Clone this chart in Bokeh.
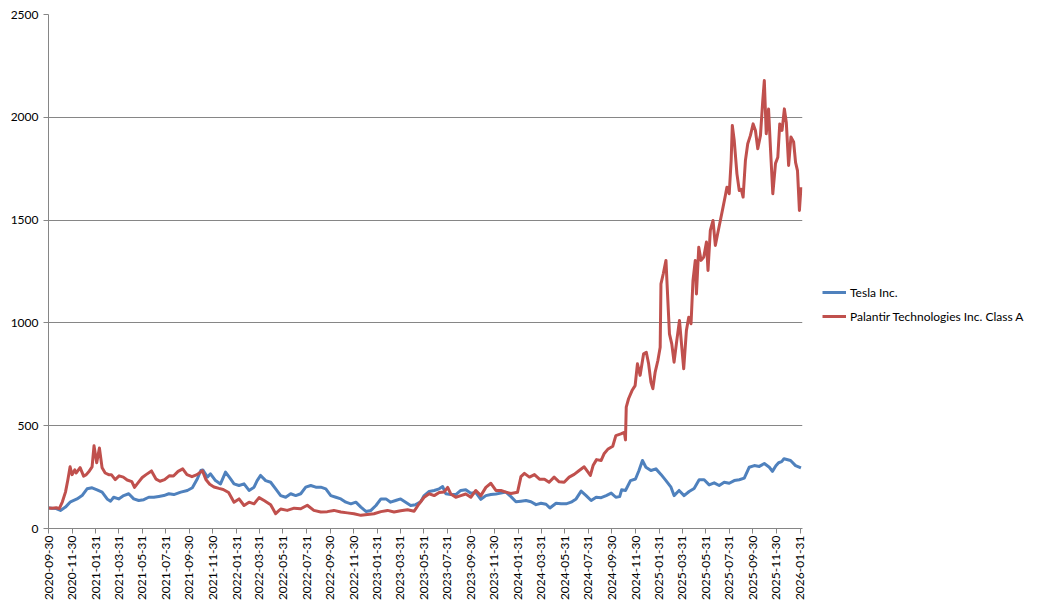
import math
import pandas as pd
from bokeh.plotting import figure
from bokeh.layouts import row
from bokeh.models import Range1d, FixedTicker, SingleIntervalTicker, DatetimeTickFormatter, Legend, LegendItem
from bokeh.embed import file_html
from bokeh.resources import INLINE

tick_labels = [
    "2020-09-30", "2020-11-30", "2021-01-31", "2021-03-31", "2021-05-31", "2021-07-31",
    "2021-09-30", "2021-11-30", "2022-01-31", "2022-03-31", "2022-05-31", "2022-07-31",
    "2022-09-30", "2022-11-30", "2023-01-31", "2023-03-31", "2023-05-31", "2023-07-31",
    "2023-09-30", "2023-11-30", "2024-01-31", "2024-03-31", "2024-05-31", "2024-07-31",
    "2024-09-30", "2024-11-30", "2025-01-31", "2025-03-31", "2025-05-31", "2025-07-31",
    "2025-09-30", "2025-11-30", "2026-01-31",
]

tesla_dates = [
    "2020-09-30", "2020-10-10", "2020-10-20", "2020-10-31", "2020-11-13", "2020-11-26",
    "2020-12-13", "2020-12-26", "2021-01-08", "2021-01-21", "2021-02-03", "2021-02-16",
    "2021-03-01", "2021-03-10", "2021-03-18", "2021-03-31", "2021-04-13", "2021-04-26",
    "2021-05-09", "2021-05-22", "2021-06-04", "2021-06-17", "2021-06-30", "2021-07-13",
    "2021-07-26", "2021-08-08", "2021-08-21", "2021-09-08", "2021-09-25", "2021-10-08",
    "2021-10-21", "2021-10-30", "2021-11-04", "2021-11-16", "2021-11-24", "2021-12-07",
    "2021-12-20", "2022-01-02", "2022-01-15", "2022-01-24", "2022-02-06", "2022-02-19",
    "2022-03-04", "2022-03-17", "2022-03-25", "2022-04-03", "2022-04-16", "2022-04-29",
    "2022-05-12", "2022-05-25", "2022-06-07", "2022-06-20", "2022-07-03", "2022-07-16",
    "2022-07-29", "2022-08-11", "2022-08-24", "2022-09-06", "2022-09-19", "2022-10-02",
    "2022-10-15", "2022-10-28", "2022-11-10", "2022-11-23", "2022-12-06", "2022-12-19",
    "2023-01-01", "2023-01-14", "2023-01-27", "2023-02-09", "2023-02-22", "2023-03-06",
    "2023-03-19", "2023-04-01", "2023-04-14", "2023-04-27", "2023-05-10", "2023-05-23",
    "2023-06-01", "2023-06-14", "2023-06-27", "2023-07-10", "2023-07-19", "2023-07-27",
    "2023-08-09", "2023-08-22", "2023-09-04", "2023-09-17", "2023-09-30", "2023-10-13",
    "2023-10-26", "2023-11-08", "2023-11-21", "2023-12-04", "2023-12-17", "2023-12-30",
    "2024-01-12", "2024-01-25", "2024-02-07", "2024-02-20", "2024-03-04", "2024-03-17",
    "2024-03-30", "2024-04-12", "2024-04-22", "2024-05-08", "2024-05-21", "2024-06-03",
    "2024-06-16", "2024-06-29", "2024-07-12", "2024-07-25", "2024-08-07", "2024-08-20",
    "2024-09-02", "2024-09-15", "2024-09-28", "2024-10-10", "2024-10-20", "2024-10-25",
    "2024-11-04", "2024-11-17", "2024-11-30", "2024-12-09", "2024-12-18", "2024-12-27",
    "2025-01-09", "2025-01-22", "2025-02-04", "2025-02-17", "2025-03-02", "2025-03-10",
    "2025-03-23", "2025-04-05", "2025-04-18", "2025-05-01", "2025-05-14", "2025-05-27",
    "2025-06-09", "2025-06-22", "2025-07-05", "2025-07-18", "2025-07-31", "2025-08-13",
    "2025-08-26", "2025-09-08", "2025-09-21", "2025-10-04", "2025-10-17", "2025-10-30",
    "2025-11-12", "2025-11-20", "2025-11-29", "2025-12-06", "2025-12-14", "2025-12-20",
    "2026-01-06", "2026-01-19", "2026-02-02",
]
tesla_values = [
    100, 98, 97, 88, 104, 130,
    144, 160, 193, 198, 188, 177,
    144, 133, 152, 144, 160, 169,
    144, 136, 140, 152, 152, 156,
    160, 169, 165, 177, 185, 198,
    242, 282, 285, 250, 266, 233,
    217, 274, 241, 217, 209, 217,
    185, 201, 233, 258, 233, 225,
    193, 160, 152, 169, 160, 169,
    201, 209, 201, 201, 193, 160,
    152, 144, 128, 120, 128, 104,
    83, 88, 112, 144, 144, 128,
    136, 144, 128, 112, 116, 130,
    160, 180, 185, 193, 204, 169,
    165, 165, 185, 188, 172, 175,
    142, 160, 165, 168, 172, 177,
    155, 130, 133, 136, 130, 116,
    123, 118, 100, 123, 120, 120,
    128, 144, 182, 160, 136, 152,
    150, 160, 172, 152, 155, 188,
    185, 233, 241, 282, 331, 298,
    282, 290, 263, 233, 201, 160,
    185, 160, 180, 195, 237, 237,
    212, 222, 209, 225, 220, 233,
    237, 245, 298, 306, 302, 316,
    298, 278, 305, 320, 325, 339,
    331, 306, 295,
]

pltr_dates = [
    "2020-09-30", "2020-10-09", "2020-10-20", "2020-10-28", "2020-11-05", "2020-11-13",
    "2020-11-19", "2020-11-25", "2020-11-30", "2020-12-07", "2020-12-11", "2020-12-21",
    "2020-12-30", "2021-01-06", "2021-01-14", "2021-01-21", "2021-01-26", "2021-02-02",
    "2021-02-09", "2021-02-16", "2021-02-24", "2021-03-05", "2021-03-12", "2021-03-22",
    "2021-04-01", "2021-04-12", "2021-04-22", "2021-05-04", "2021-05-11", "2021-05-20",
    "2021-05-31", "2021-06-10", "2021-06-24", "2021-07-06", "2021-07-16", "2021-07-28",
    "2021-08-09", "2021-08-20", "2021-09-01", "2021-09-13", "2021-09-24", "2021-10-07",
    "2021-10-20", "2021-11-03", "2021-11-12", "2021-11-22", "2021-12-03", "2021-12-16",
    "2021-12-27", "2022-01-10", "2022-01-24", "2022-02-06", "2022-02-19", "2022-03-04",
    "2022-03-17", "2022-03-30", "2022-04-12", "2022-04-29", "2022-05-12", "2022-05-25",
    "2022-06-11", "2022-06-29", "2022-07-16", "2022-08-02", "2022-08-19", "2022-09-06",
    "2022-09-23", "2022-10-10", "2022-10-28", "2022-11-14", "2022-12-01", "2022-12-19",
    "2023-01-05", "2023-01-22", "2023-02-09", "2023-02-26", "2023-03-15", "2023-04-01",
    "2023-04-19", "2023-05-06", "2023-05-18", "2023-06-01", "2023-06-14", "2023-06-27",
    "2023-07-10", "2023-07-23", "2023-08-01", "2023-08-09", "2023-08-22", "2023-09-04",
    "2023-09-17", "2023-09-30", "2023-10-13", "2023-10-26", "2023-11-08", "2023-11-21",
    "2023-12-04", "2023-12-17", "2023-12-30", "2024-01-12", "2024-01-29", "2024-02-07",
    "2024-02-16", "2024-02-29", "2024-03-13", "2024-03-26", "2024-04-08", "2024-04-20",
    "2024-05-03", "2024-05-16", "2024-05-29", "2024-06-11", "2024-06-24", "2024-07-07",
    "2024-07-20", "2024-08-05", "2024-08-12", "2024-08-21", "2024-09-02", "2024-09-10",
    "2024-09-19", "2024-10-02", "2024-10-10", "2024-10-23", "2024-11-01", "2024-11-04",
    "2024-11-06", "2024-11-12", "2024-11-21", "2024-11-29", "2024-12-05", "2024-12-12",
    "2024-12-21", "2024-12-28", "2025-01-03", "2025-01-09", "2025-01-14", "2025-01-20",
    "2025-01-27", "2025-02-02", "2025-02-04", "2025-02-10", "2025-02-17", "2025-02-20",
    "2025-02-26", "2025-03-04", "2025-03-10", "2025-03-17", "2025-03-24", "2025-03-30",
    "2025-04-04", "2025-04-11", "2025-04-17", "2025-04-23", "2025-04-28", "2025-05-04",
    "2025-05-07", "2025-05-13", "2025-05-19", "2025-05-26", "2025-06-02", "2025-06-06",
    "2025-06-12", "2025-06-19", "2025-06-25", "2025-07-01", "2025-07-08", "2025-07-15",
    "2025-07-21", "2025-07-25", "2025-07-31", "2025-08-05", "2025-08-08", "2025-08-13",
    "2025-08-20", "2025-08-26", "2025-08-31", "2025-09-05", "2025-09-11", "2025-09-17",
    "2025-09-24", "2025-10-01", "2025-10-07", "2025-10-13", "2025-10-20", "2025-10-26",
    "2025-10-30", "2025-11-04", "2025-11-10", "2025-11-15", "2025-11-21", "2025-11-28",
    "2025-12-04", "2025-12-09", "2025-12-15", "2025-12-21", "2025-12-26", "2026-01-01",
    "2026-01-07", "2026-01-14", "2026-01-19", "2026-01-24", "2026-01-29", "2026-02-02",
]
pltr_values = [
    100, 98, 101, 97, 130, 177,
    235, 300, 262, 285, 270, 296,
    255, 262, 280, 300, 402, 320,
    392, 295, 270, 262, 262, 238,
    256, 250, 236, 228, 200, 222,
    248, 262, 280, 240, 230, 238,
    256, 255, 278, 290, 262, 252,
    262, 281, 238, 215, 202, 195,
    190, 175, 128, 144, 112, 128,
    120, 150, 136, 116, 72, 95,
    88, 99, 96, 113, 88, 80,
    82, 88, 80, 76, 72, 64,
    68, 72, 82, 88, 80, 86,
    91, 84, 118, 152, 169, 160,
    175, 178, 200, 168, 152, 160,
    168, 152, 185, 160, 200, 220,
    185, 185, 177, 170, 176, 252,
    268, 250, 262, 240, 240, 225,
    250, 227, 225, 250, 263, 282,
    300, 258, 306, 335, 331, 365,
    385, 400, 452, 460, 468, 431,
    590, 631, 671, 695, 801, 745,
    850, 857, 801, 712, 680, 761,
    817, 882, 1190, 1239, 1304, 1183,
    947, 898, 809, 914, 1012, 882,
    777, 963, 1028, 996, 1206, 1304,
    1141, 1368, 1304, 1320, 1393, 1255,
    1450, 1498, 1377, 1434, 1498, 1563,
    1620, 1660, 1628, 1790, 1960, 1887,
    1725, 1644, 1650, 1612, 1790, 1871,
    1912, 1968, 1936, 1847, 1912, 2082,
    2179, 1920, 2040, 1847, 1628, 1776,
    1806, 1968, 1936, 2041, 1975, 1766,
    1904, 1880, 1781, 1741, 1547, 1660,
]

series_names = ["Tesla Inc.", "Palantir Technologies Inc. Class A"]
series_colors = ["#4F81BD", "#C0504D"]
AXIS_GREY = "#868686"
FONT = "Lato"
H = 606

chart = figure(
    width=812, height=H,
    x_axis_type="datetime",
    x_range=Range1d(pd.Timestamp("2020-09-30"), pd.Timestamp("2026-02-06")),
    y_range=Range1d(0, 2500),
    output_backend="svg", toolbar_location=None,
    min_border_left=48, min_border_right=10, min_border_top=14, min_border_bottom=78,
)
chart.outline_line_color = None
chart.background_fill_color = "white"
chart.border_fill_color = "white"

chart.line(pd.to_datetime(tesla_dates), tesla_values, line_color=series_colors[0],
           line_width=3, line_join="round")
chart.line(pd.to_datetime(pltr_dates), pltr_values, line_color=series_colors[1],
           line_width=3, line_join="round")

tick_ms = [pd.Timestamp(t).value // 10**6 for t in tick_labels]
chart.xaxis.ticker = FixedTicker(ticks=tick_ms)
fmt = "%Y-%m-%d"
chart.xaxis.formatter = DatetimeTickFormatter(
    microseconds=fmt, milliseconds=fmt, seconds=fmt, minsec=fmt, minutes=fmt,
    hourmin=fmt, hours=fmt, days=fmt, months=fmt, years=fmt)
chart.xaxis.major_label_orientation = math.pi / 2
chart.xaxis.major_label_standoff = 2

chart.yaxis.ticker = SingleIntervalTicker(interval=500)
chart.yaxis.major_label_standoff = 5

for ax in (chart.xaxis, chart.yaxis):
    ax.axis_line_color = AXIS_GREY
    ax.major_tick_line_color = AXIS_GREY
    ax.major_tick_out = 5
    ax.major_tick_in = 0
    ax.minor_tick_line_color = None
    ax.major_label_text_font = FONT
    ax.major_label_text_font_size = "12px"
    ax.major_label_text_color = "#000000"

chart.xgrid.grid_line_color = None
chart.ygrid.grid_line_color = AXIS_GREY
chart.ygrid.grid_line_width = 1

# legend panel (separate figure so the legend is not clipped to the chart frame);
# its frame is aligned with the chart frame (top 14, bottom 528) by the row layout
leg_fig = figure(
    width=1043 - 812, height=H, output_backend="svg", toolbar_location=None,
    x_range=Range1d(0, 1), y_range=Range1d(0, 1),
    x_axis_location=None, y_axis_location=None,
    min_border_left=0, min_border_right=0, min_border_top=0, min_border_bottom=0,
)
leg_fig.outline_line_color = None
leg_fig.xgrid.grid_line_color = None
leg_fig.ygrid.grid_line_color = None
nan = float("nan")
k1 = leg_fig.line(x=[nan], y=[nan], line_color=series_colors[0], line_width=3)
k2 = leg_fig.line(x=[nan], y=[nan], line_color=series_colors[1], line_width=3)

legend = Legend(
    items=[LegendItem(label=series_names[0], renderers=[k1]),
           LegendItem(label=series_names[1], renderers=[k2])],
    location=(10, 202), margin=0, padding=0,
    border_line_color=None, background_fill_alpha=0,
    spacing=4, glyph_width=24, glyph_height=20, label_standoff=4,
    label_text_font=FONT, label_text_font_size="12px", label_text_color="#000000",
)
leg_fig.add_layout(legend)

p = row(chart, leg_fig)
open("out.html", "w").write(file_html(p, INLINE))
